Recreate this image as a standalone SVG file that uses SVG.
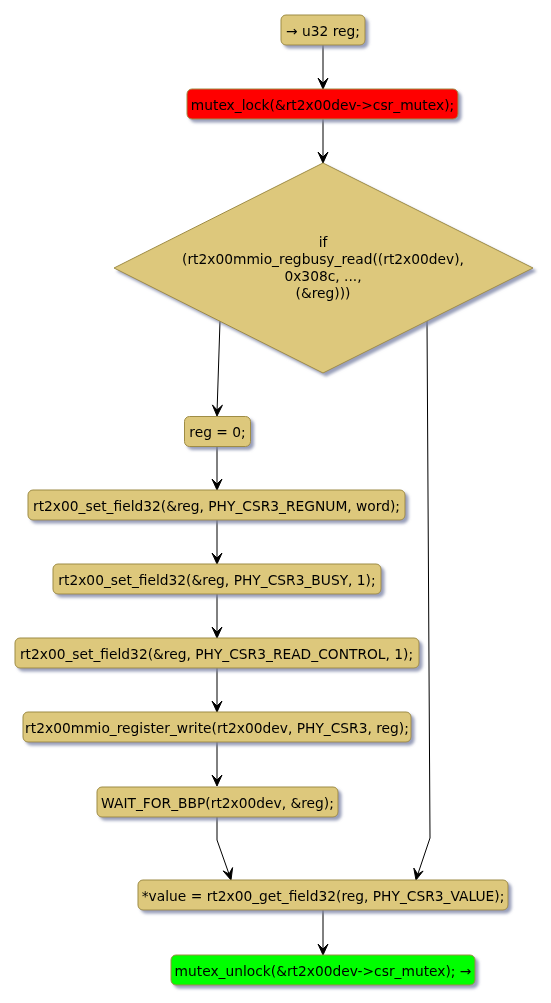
<svg xmlns="http://www.w3.org/2000/svg" width="551" height="1003" viewBox="0 0 551 1003">
<style>
.n{fill:#DDC87C;stroke:#9E8C45;stroke-width:1}
.red{fill:#FF0000;stroke:#9E8C45;stroke-width:1}
.grn{fill:#00FF00;stroke:#9E8C45;stroke-width:1}
.t{font-family:"DejaVu Sans",sans-serif;font-size:13.8px;fill:#000;text-anchor:middle}
.c{fill:none;stroke:#000;stroke-width:1}
.ah{fill:#000;stroke:#000;stroke-width:1}
</style>
<defs>
<filter id="sh" x="-10%" y="-20%" width="130%" height="160%">
<feGaussianBlur in="SourceAlpha" stdDeviation="1.5"/>
<feOffset dx="3" dy="3" result="b"/>
<feFlood flood-color="#7E86A8" flood-opacity="0.8"/>
<feComposite in2="b" operator="in"/>
<feMerge><feMergeNode/><feMergeNode in="SourceGraphic"/></feMerge>
</filter>
</defs>
<rect width="551" height="1003" fill="#FFFFFF"/>
<g id="connectors">
<path class="c" d="M323,45 V83"/><polygon class="ah" points="323,89 318,78 323,83 328,78"/>
<path class="c" d="M323,119 V157"/><polygon class="ah" points="323,163 318,152 323,157 328,152"/>
<path class="c" d="M220,321 L217.1,410"/><polygon class="ah" points="217,416 212.4,404.9 217.1,410 222.4,405.2"/>
<path class="c" d="M217,446 V484"/><polygon class="ah" points="217,490 212,479 217,484 222,479"/>
<path class="c" d="M217,520 V558"/><polygon class="ah" points="217,564 212,553 217,558 222,553"/>
<path class="c" d="M217,594 V632"/><polygon class="ah" points="217,638 212,627 217,632 222,627"/>
<path class="c" d="M217,668 V706"/><polygon class="ah" points="217,712 212,701 217,706 222,701"/>
<path class="c" d="M217,742 V780"/><polygon class="ah" points="217,786 212,775 217,780 222,775"/>
<path class="c" d="M217,817 V840 L229,874"/><polygon class="ah" points="231,880 223.1,870.9 229,874 232.6,867.6"/>
<path class="c" d="M427,321 L430,838 L417.8,874.3"/><polygon class="ah" points="416,880 413.8,868.1 417.8,874.3 423.1,871"/>
<path class="c" d="M323,910 V949"/><polygon class="ah" points="323,955 318,944 323,949 328,944"/>
</g>
<g id="n1" filter="url(#sh)"><rect class="n" x="281" y="15" width="84" height="30" rx="5"/><text class="t" x="323" y="35.5">→ u32 reg;</text></g>
<g id="n2" filter="url(#sh)"><rect class="red" x="187" y="89" width="271" height="30" rx="5"/><text class="t" x="322.5" y="109.5">mutex_lock(&amp;rt2x00dev-&gt;csr_mutex);</text></g>
<g id="n3" filter="url(#sh)"><polygon class="n" points="323,163 533,268 323,373 114,268"/>
<text class="t" x="323" y="247">if</text>
<text class="t" x="323" y="264">(rt2x00mmio_regbusy_read((rt2x00dev),</text>
<text class="t" x="323" y="281">0x308c, ...,</text>
<text class="t" x="323" y="298">(&amp;reg)))</text></g>
<g id="n4" filter="url(#sh)"><rect class="n" x="184.5" y="416.5" width="66" height="30" rx="5"/><text class="t" x="217.5" y="437">reg = 0;</text></g>
<g id="n5" filter="url(#sh)"><rect class="n" x="28" y="490" width="377" height="30" rx="5"/><text class="t" x="216.5" y="510.5">rt2x00_set_field32(&amp;reg, PHY_CSR3_REGNUM, word);</text></g>
<g id="n6" filter="url(#sh)"><rect class="n" x="53" y="564" width="328" height="30" rx="5"/><text class="t" x="217" y="584.5">rt2x00_set_field32(&amp;reg, PHY_CSR3_BUSY, 1);</text></g>
<g id="n7" filter="url(#sh)"><rect class="n" x="15" y="638" width="404" height="30" rx="5"/><text class="t" x="216.5" y="658.5">rt2x00_set_field32(&amp;reg, PHY_CSR3_READ_CONTROL, 1);</text></g>
<g id="n8" filter="url(#sh)"><rect class="n" x="23" y="712" width="388" height="30" rx="5"/><text class="t" x="217" y="732.5">rt2x00mmio_register_write(rt2x00dev, PHY_CSR3, reg);</text></g>
<g id="n9" filter="url(#sh)"><rect class="n" x="97" y="787" width="241" height="30" rx="5"/><text class="t" x="217.5" y="807.5">WAIT_FOR_BBP(rt2x00dev, &amp;reg);</text></g>
<g id="n10" filter="url(#sh)"><rect class="n" x="138" y="880" width="370" height="30" rx="5"/><text class="t" x="323" y="900.5">*value = rt2x00_get_field32(reg, PHY_CSR3_VALUE);</text></g>
<g id="n11" filter="url(#sh)"><rect class="grn" x="171" y="955" width="304" height="30" rx="5"/><text class="t" x="323" y="975.5">mutex_unlock(&amp;rt2x00dev-&gt;csr_mutex); →</text></g>
</svg>
